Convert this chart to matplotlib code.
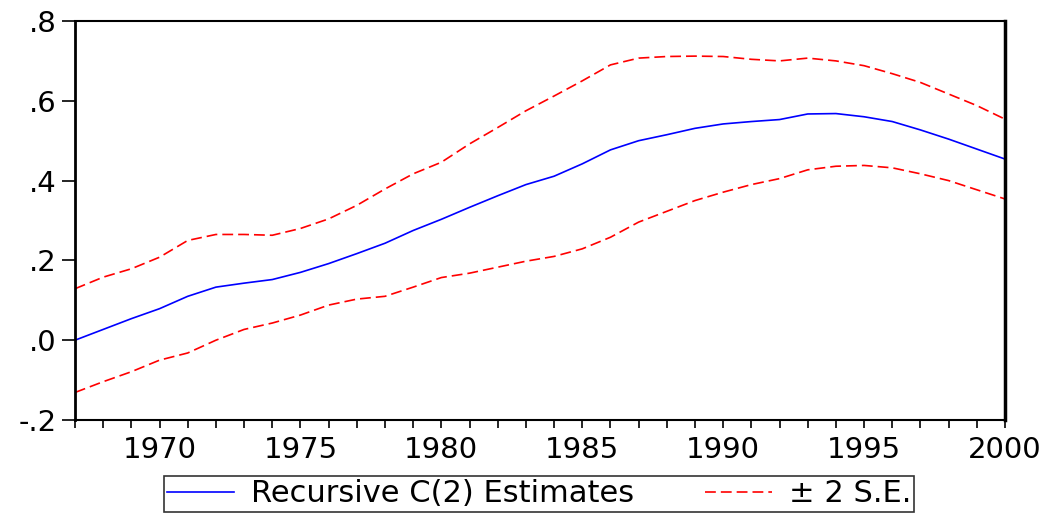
import matplotlib
matplotlib.use("Agg")
import matplotlib.pyplot as plt
from matplotlib.ticker import MultipleLocator, FuncFormatter

# the reference uses a wide Arial-like face; DejaVu Sans gives the closest footprint
plt.rcParams['font.family'] = ['DejaVu Sans']

years = list(range(1967, 2001))

# recursive estimate of C(2)
coef = [0.000, 0.027, 0.054, 0.079, 0.110, 0.133, 0.143, 0.152, 0.170,
        0.192, 0.217, 0.243, 0.275, 0.303, 0.333, 0.362, 0.390, 0.411,
        0.442, 0.477, 0.500, 0.515, 0.531, 0.542, 0.548, 0.553, 0.567,
        0.568, 0.560, 0.548, 0.527, 0.504, 0.479, 0.454]

# +2 S.E. band
upper = [0.129, 0.158, 0.179, 0.208, 0.250, 0.265, 0.265, 0.263, 0.280,
         0.304, 0.338, 0.379, 0.417, 0.446, 0.492, 0.533, 0.575, 0.612,
         0.650, 0.690, 0.707, 0.711, 0.712, 0.711, 0.704, 0.700, 0.707,
         0.700, 0.688, 0.668, 0.646, 0.617, 0.588, 0.554]

# -2 S.E. band
lower = [-0.131, -0.104, -0.079, -0.050, -0.032, 0.000, 0.027, 0.043, 0.063,
         0.088, 0.103, 0.110, 0.133, 0.157, 0.168, 0.183, 0.198, 0.210,
         0.229, 0.258, 0.296, 0.323, 0.350, 0.371, 0.390, 0.405, 0.427,
         0.436, 0.438, 0.432, 0.417, 0.400, 0.377, 0.354]

fig = plt.figure(figsize=(10.56, 5.13), dpi=100)
ax = fig.add_axes([75/1056, 1 - 420/513, 930/1056, 399/513])

ax.plot(years, coef, color='#0000ff', linewidth=1.2,
        label='Recursive C(2) Estimates')
ax.plot(years, upper, color='#ff0000', linewidth=1.2,
        dashes=(6.5, 3), label='\u00b1 2 S.E.')
ax.plot(years, lower, color='#ff0000', linewidth=1.2,
        dashes=(6.5, 3), label='_nolegend_')

ax.set_xlim(1967, 2000)
ax.set_ylim(-0.2, 0.8)

ax.xaxis.set_major_locator(MultipleLocator(5))
ax.xaxis.set_minor_locator(MultipleLocator(1))
ax.yaxis.set_major_locator(MultipleLocator(0.2))


def yfmt(v, pos):
    s = '%.1f' % v
    if s == '-0.0':
        s = '0.0'
    return s.replace('0.', '.', 1)


ax.yaxis.set_major_formatter(FuncFormatter(yfmt))

ax.tick_params(axis='both', which='both', direction='out', width=1.2,
               color='black', labelsize=21)
ax.tick_params(axis='x', which='both', length=5.5, pad=6)
ax.tick_params(axis='y', which='major', length=9.5, pad=4)
ax.tick_params(top=False, right=False)

ax.spines['left'].set_linewidth(2.0)
ax.spines['bottom'].set_linewidth(1.5)
ax.spines['top'].set_linewidth(1.5)
ax.spines['right'].set_linewidth(2.5)

leg = ax.legend(loc='center', bbox_to_anchor=(539/1056, 1 - 494/513),
                bbox_transform=fig.transFigure, ncol=2, fontsize=22,
                frameon=True, fancybox=False, handlelength=2.2,
                columnspacing=2.3, borderpad=0.1, handletextpad=0.55,
                borderaxespad=0)
leg.get_frame().set_edgecolor('black')
leg.get_frame().set_linewidth(1.2)

plt.savefig('out.png', dpi=100)
